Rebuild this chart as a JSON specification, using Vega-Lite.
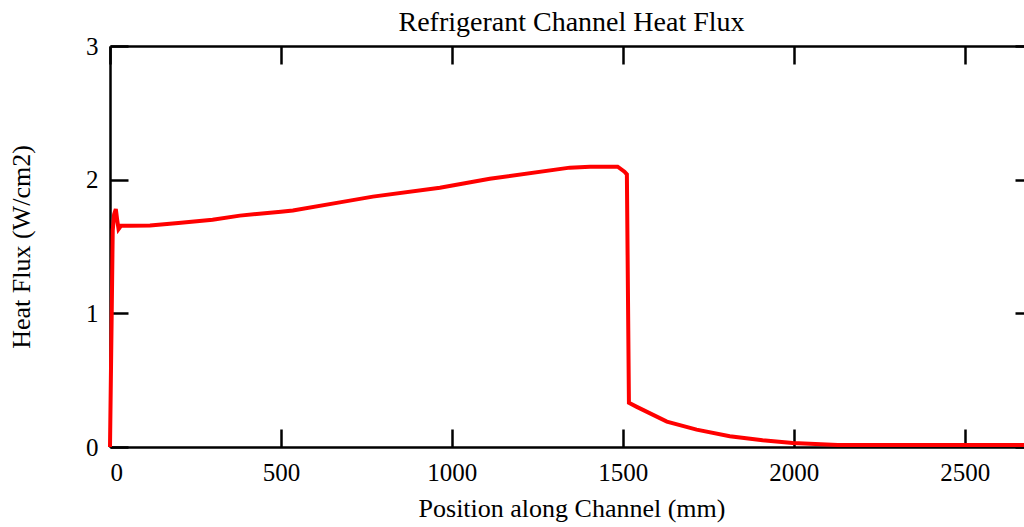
{
  "$schema": "https://vega.github.io/schema/vega-lite/v6.json",
  "autosize": "none",
  "width": 923,
  "height": 401,
  "padding": {"left": 110, "top": 46, "right": 0, "bottom": 80},
  "background": "white",
  "title": {"text": "Refrigerant Channel Heat Flux", "font": "Liberation Serif", "fontSize": 28, "fontWeight": "normal", "color": "black", "offset": -3, "anchor": "middle"},
  "config": {
    "view": {"stroke": null},
    "axis": {"grid": false, "domainColor": "black", "domainWidth": 2.5, "tickColor": "black", "tickWidth": 2.5, "tickSize": -18, "labelFont": "Liberation Serif", "labelFontSize": 25, "labelColor": "black", "titleFont": "Liberation Serif", "titleFontSize": 26, "titleFontWeight": "normal", "titleColor": "black"}
  },
  "data": {"values": [
    {"pos": 0, "flux": 0},
    {"pos": 5, "flux": 1.0},
    {"pos": 8, "flux": 1.62},
    {"pos": 12, "flux": 1.74},
    {"pos": 17, "flux": 1.78},
    {"pos": 21, "flux": 1.70},
    {"pos": 25, "flux": 1.63},
    {"pos": 32, "flux": 1.655},
    {"pos": 60, "flux": 1.655},
    {"pos": 117, "flux": 1.657},
    {"pos": 200, "flux": 1.675},
    {"pos": 300, "flux": 1.70},
    {"pos": 380, "flux": 1.731},
    {"pos": 500, "flux": 1.76},
    {"pos": 535, "flux": 1.769},
    {"pos": 672, "flux": 1.83},
    {"pos": 769, "flux": 1.873},
    {"pos": 965, "flux": 1.94},
    {"pos": 1111, "flux": 2.007},
    {"pos": 1345, "flux": 2.09},
    {"pos": 1404, "flux": 2.097},
    {"pos": 1485, "flux": 2.097},
    {"pos": 1505, "flux": 2.06},
    {"pos": 1512, "flux": 2.04},
    {"pos": 1518, "flux": 0.33},
    {"pos": 1541, "flux": 0.30},
    {"pos": 1629, "flux": 0.19},
    {"pos": 1716, "flux": 0.13},
    {"pos": 1813, "flux": 0.08},
    {"pos": 1909, "flux": 0.05},
    {"pos": 1997, "flux": 0.03},
    {"pos": 2129, "flux": 0.015},
    {"pos": 2700, "flux": 0.015}
  ]},
  "layer": [
    {
      "mark": {"type": "line", "color": "#ff0000", "strokeWidth": 4},
      "encoding": {
        "x": {"field": "pos", "type": "quantitative", "scale": {"domain": [0, 2700], "nice": false, "zero": false},
              "axis": {"orient": "bottom", "values": [0, 500, 1000, 1500, 2000, 2500], "format": "d", "title": "Position along Channel (mm)", "labelPadding": 31, "titlePadding": 10}},
        "y": {"field": "flux", "type": "quantitative", "scale": {"domain": [0, 3], "nice": false},
              "axis": {"orient": "left", "values": [0, 1, 2, 3], "format": "d", "title": "Heat Flux (W/cm2)", "labelPadding": 30, "titlePadding": 51}}
      }
    },
    {
      "mark": {"type": "line", "strokeOpacity": 0},
      "encoding": {
        "x": {"field": "pos", "type": "quantitative", "axis": {"orient": "top", "values": [0, 500, 1000, 1500, 2000, 2500], "labels": false, "title": null}},
        "y": {"field": "flux", "type": "quantitative", "axis": {"orient": "right", "values": [0, 1, 2, 3], "labels": false, "title": null}}
      }
    }
  ],
  "resolve": {"axis": {"x": "independent", "y": "independent"}}
}
